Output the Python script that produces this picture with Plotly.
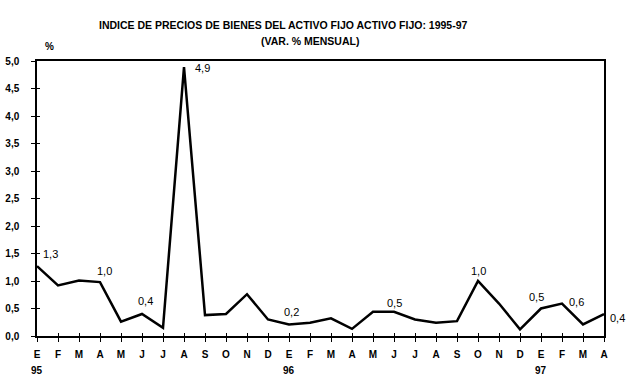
import plotly.graph_objects as go

months = ["E", "F", "M", "A", "M", "J", "J", "A", "S", "O", "N", "D",
          "E", "F", "M", "A", "M", "J", "J", "A", "S", "O", "N", "D",
          "E", "F", "M", "A"]
years = ["95", "96", "97"]
year_pos = [0, 12, 24]
values = [1.27, 0.92, 1.01, 0.98, 0.26, 0.40, 0.15, 4.89, 0.38, 0.40, 0.76, 0.30,
          0.21, 0.24, 0.32, 0.13, 0.44, 0.44, 0.30, 0.24, 0.27, 1.00, 0.59, 0.12,
          0.50, 0.59, 0.21, 0.40]
y_ticks = [0, 0.5, 1, 1.5, 2, 2.5, 3, 3.5, 4, 4.5, 5]
y_ticktext = ["0,0", "0,5", "1,0", "1,5", "2,0", "2,5", "3,0", "3,5", "4,0", "4,5", "5,0"]
# labelled points: (index, text, xanchor, xshift, yshift)
labels = [(0, "1,3", "left", 4, 12), (3, "1,0", "center", 4, 11), (5, "0,4", "center", 3, 13),
          (7, "4,9", "left", 9, -1), (12, "0,2", "center", 2, 12), (17, "0,5", "center", 0, 9),
          (21, "1,0", "center", 0, 10), (24, "0,5", "center", -5, 12), (25, "0,6", "left", 5, 2),
          (27, "0,4", "left", 4, -4)]

W, H = 636, 388
L, R, T, B = 37, 32, 61, 52
plot_top, plot_bot = T, H - B
plot_h = plot_bot - plot_top
plot_w = W - L - R


def py(ypix):
    return (plot_bot - ypix) / plot_h


def px(xpix):
    return (xpix - L) / plot_w


x = list(range(len(values)))
fig = go.Figure()
fig.add_trace(go.Scatter(x=x, y=values, mode="lines",
                         line=dict(color="black", width=2.5), showlegend=False,
                         hoverinfo="skip", cliponaxis=False))
fig.add_trace(go.Scatter(x=x, y=values, mode="lines", xaxis="x2", yaxis="y2",
                         line=dict(width=0), showlegend=False, hoverinfo="skip"))

ann = []
for i, t, xa, xs, ys in labels:
    ann.append(dict(x=i, y=values[i], xref="x", yref="y", text=t, showarrow=False,
                    xanchor=xa, yanchor="middle", xshift=xs, yshift=ys,
                    font=dict(family="Liberation Sans, Arial", size=11, color="black")))
for p, yr in zip(year_pos, years):
    ann.append(dict(x=p, y=py(370.5), xref="x", yref="paper", yanchor="middle",
                    text="<b>" + yr + "</b>", showarrow=False, xanchor="center",
                    font=dict(family="Liberation Sans, Arial", size=10, color="black")))

tfont = dict(family="Liberation Sans Narrow, Arial Narrow, Liberation Sans", size=10.5, color="black")
ann.append(dict(x=px(283), y=py(25), xref="paper", yref="paper",
                text="<b>INDICE DE PRECIOS DE BIENES DEL ACTIVO FIJO ACTIVO FIJO: 1995-97</b>",
                showarrow=False, xanchor="center", yanchor="middle", font=tfont))
ann.append(dict(x=px(310), y=py(40.5), xref="paper", yref="paper", text="<b>(VAR. % MENSUAL)</b>",
                showarrow=False, xanchor="center", yanchor="middle", font=tfont))
ann.append(dict(x=px(49.5), y=py(46), xref="paper", yref="paper", text="<b>%</b>",
                showarrow=False, xanchor="center", yanchor="middle",
                font=dict(family="Liberation Sans Narrow, Liberation Sans", size=10, color="black")))

fig.update_layout(
    width=W, height=H,
    margin=dict(l=L, r=R, t=T, b=B, autoexpand=False),
    paper_bgcolor="white", plot_bgcolor="white",
    annotations=ann,
    xaxis=dict(range=[0, 27], tickvals=x, ticktext=["<b>" + m + "</b>" for m in months],
               showgrid=False, zeroline=False, showline=True, linecolor="black", linewidth=1.5,
               mirror=True, ticks="outside", ticklen=4, tickcolor="black", tickwidth=1,
               tickfont=dict(family="Liberation Sans, Arial", size=10, color="black"),
               ticklabelstandoff=4, fixedrange=True, automargin=False),
    yaxis=dict(range=[0, 5], tickvals=y_ticks, ticktext=["<b>" + t + "</b>" for t in y_ticktext],
               showgrid=False, zeroline=False, showline=True, linecolor="black", linewidth=1.5,
               mirror=True, ticks="outside", ticklen=4, tickcolor="black", tickwidth=1,
               tickfont=dict(family="Liberation Sans, Arial", size=10, color="black"),
               ticklabelstandoff=10, fixedrange=True, automargin=False),
    xaxis2=dict(range=[0, 27], tickvals=x, showticklabels=False, overlaying="x",
                anchor="y2", side="bottom", ticks="inside", ticklen=3, tickcolor="black",
                showgrid=False, zeroline=False, showline=False, automargin=False),
    yaxis2=dict(range=[0, 5], tickvals=y_ticks, showticklabels=False, overlaying="y",
                anchor="x2", side="left", ticks="inside", ticklen=3, tickcolor="black",
                showgrid=False, zeroline=False, showline=False, automargin=False),
)

fig.write_html("out.html", config={"displayModeBar": False},
               post_script="document.body.style.margin='0';document.body.style.padding='0';")
